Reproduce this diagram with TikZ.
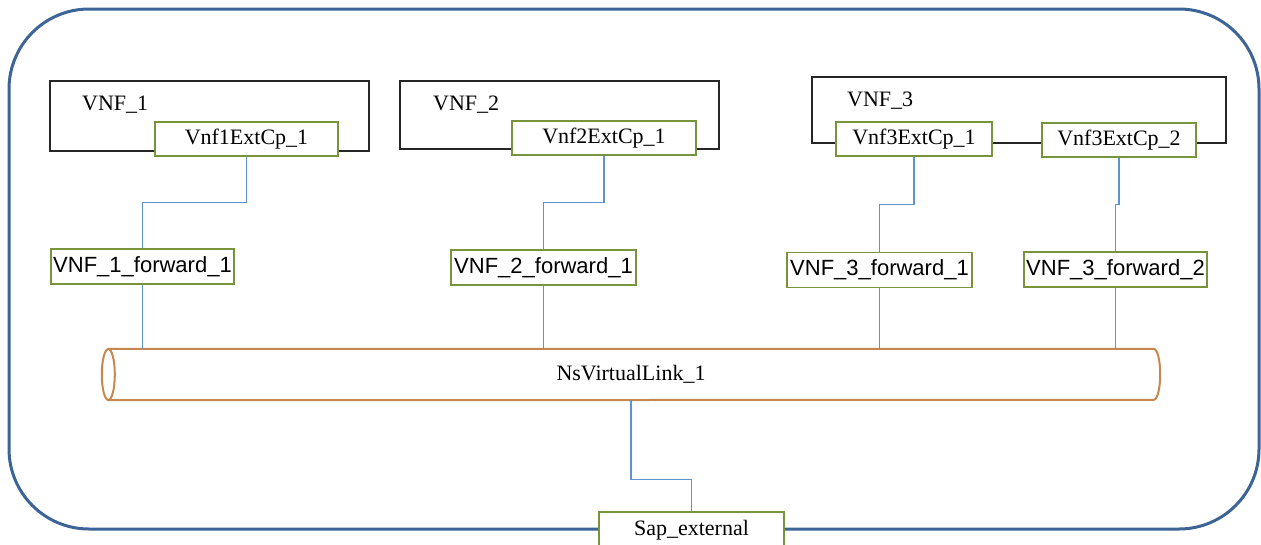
\documentclass[tikz,border=0pt]{standalone}
\usepackage{fontspec}
\setmainfont{Liberation Serif}
\newfontfamily\arialfont{Liberation Sans}
\usepackage{xcolor}
\usepackage{tikz}
\usetikzlibrary{calc}
\definecolor{cpgreen}{HTML}{77933C}
\definecolor{linkblue}{HTML}{5E93CF}
\definecolor{framebl}{HTML}{3C6496}
\definecolor{pipeor}{HTML}{C8874E}

\begin{document}
\begin{tikzpicture}[
  x=1pt, y=1pt,
  vnfbox/.style={rectangle,draw=black!85,line width=1.4pt,inner sep=0pt},
  vnfname/.style={anchor=base west,inner sep=0pt,font=\fontsize{22}{24}\selectfont},
  extcp/.style={rectangle,draw=cpgreen,line width=1.4pt,fill=white,minimum height=34,inner sep=1pt,font=\fontsize{22}{24}\selectfont},
  fwd/.style={rectangle,draw=cpgreen,line width=1.4pt,fill=white,minimum height=35,inner sep=1pt,font=\arialfont\fontsize{22}{24}\selectfont},
  link/.style={linkblue,line width=1.4pt},
  pipe/.style={pipeor,line width=2pt}
]
  \useasboundingbox (0,0) rectangle (1261,-544);
  % outer service frame
  \draw[framebl,line width=3pt,rounded corners=80] (9,-9) rectangle (1259,-529);

  % VNF containers
  \node[vnfbox,minimum width=319,minimum height=70] (vnf1) at (209.5,-116) {};
  \node[vnfbox,minimum width=319,minimum height=68] (vnf2) at (559.5,-115) {};
  \node[vnfbox,minimum width=414,minimum height=66] (vnf3) at (1019,-110) {};
  \node[vnfname] (vnf1name) at (82,-110) {VNF\_1};
  \node[vnfname] (vnf2name) at (433,-110) {VNF\_2};
  \node[vnfname] (vnf3name) at (847,-106) {VNF\_3};

  % external connection points
  \node[extcp,minimum width=183] (cp1)  at (246.5,-139) {Vnf1ExtCp\_1};
  \node[extcp,minimum width=184] (cp2)  at (604,-138)   {Vnf2ExtCp\_1};
  \node[extcp,minimum width=156] (cp3a) at (914,-139)   {Vnf3ExtCp\_1};
  \node[extcp,minimum width=154] (cp3b) at (1119,-140)  {Vnf3ExtCp\_2};

  % forwarding points
  \node[fwd,minimum width=183] (fw1)  at (142.5,-266.5) {VNF\_1\_forward\_1};
  \node[fwd,minimum width=185] (fw2)  at (543.5,-267.5) {VNF\_2\_forward\_1};
  \node[fwd,minimum width=185] (fw3a) at (879.5,-270)   {VNF\_3\_forward\_1};
  \node[fwd,minimum width=183] (fw3b) at (1115.5,-269.5) {VNF\_3\_forward\_2};

  % virtual link (pipe)
  \node[rectangle,minimum width=1045,minimum height=51,inner sep=0pt,
        font=\fontsize{22}{24}\selectfont] (vl) at (631,-374.5) {NsVirtualLink\_1};
  \draw[pipe] (vl.north west) -- (vl.north east)
    arc[start angle=90,end angle=-90,x radius=6.5,y radius=25.5] -- (vl.south west);
  \draw[pipe] (vl.west) ellipse[x radius=6.5,y radius=25.5];

  % cp -> forward, elbow at mid height
  \draw[link] (cp1.south)  |- ($(cp1.south)!.5!(fw1.north)$)   -| (fw1.north);
  \draw[link] (cp2.south)  |- ($(cp2.south)!.5!(fw2.north)$)   -| (fw2.north);
  \draw[link] (cp3a.south) |- ($(cp3a.south)!.5!(fw3a.north)$) -| (fw3a.north);
  \draw[link] (cp3b.south) |- ($(cp3b.south)!.5!(fw3b.north)$) -| (fw3b.north);

  % forward -> virtual link
  \draw[link] (fw1.south)  -- (fw1.south |- vl.north);
  \draw[link] (fw2.south)  -- (fw2.south |- vl.north);
  \draw[link] (fw3a.south) -- (fw3a.south |- vl.north);
  \draw[link] (fw3b.south) -- (fw3b.south |- vl.north);

  % service access point on the frame
  \node[extcp,minimum width=185,minimum height=36] (sap) at (691.5,-530) {Sap\_external};
  \draw[link] (vl.south) -- ++(0,-79) -| (sap.north);
\end{tikzpicture}
\end{document}
